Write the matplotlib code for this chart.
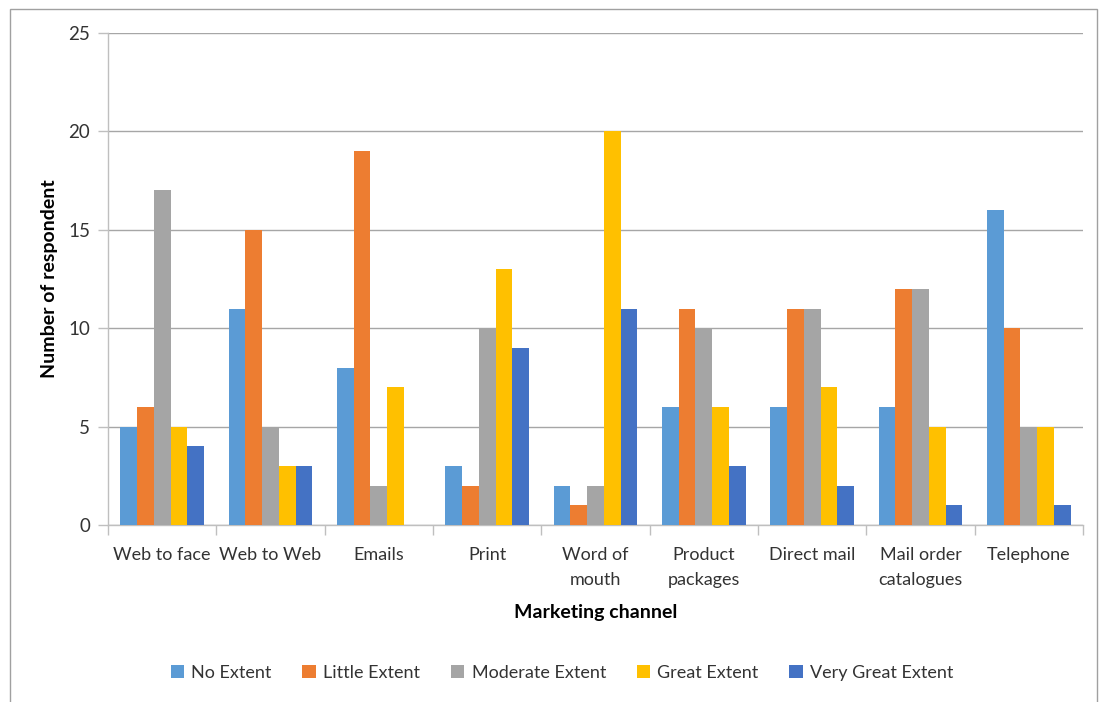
import matplotlib.pyplot as plt
import numpy as np
from matplotlib.patches import Rectangle

plt.rcParams['font.family'] = ['Lato', 'DejaVu Sans']

# Survey counts per marketing channel
channels = ['Web to face', 'Web to Web', 'Emails', 'Print', 'Word of\nmouth',
            'Product\npackages', 'Direct mail', 'Mail order\ncatalogues', 'Telephone']
no_extent = [5, 11, 8, 3, 2, 6, 6, 6, 16]
little_extent = [6, 15, 19, 2, 1, 11, 11, 12, 10]
moderate_extent = [17, 5, 2, 10, 2, 10, 11, 12, 5]
great_extent = [5, 3, 7, 13, 20, 6, 7, 5, 5]
very_great_extent = [4, 3, 0, 9, 11, 3, 2, 1, 1]

series_names = ['No Extent', 'Little Extent', 'Moderate Extent', 'Great Extent', 'Very Great Extent']
series_values = [no_extent, little_extent, moderate_extent, great_extent, very_great_extent]
colors = ['#5B9BD5', '#ED7D31', '#A5A5A5', '#FFC000', '#4472C4']

fig = plt.figure(figsize=(11.01, 7.02), dpi=100)
ax = fig.add_axes([108 / 1101, 177 / 702, 975 / 1101, 492 / 702])

# Light chart border
fig.patches.append(Rectangle((10 / 1101, -0.01), 1087 / 1101, 1 - 9 / 702 + 0.01,
                             transform=fig.transFigure, fill=False,
                             edgecolor='#A0A0A0', linewidth=1.0))

x = np.arange(len(channels))
bar_width = 0.154
for i, (name, values, color) in enumerate(zip(series_names, series_values, colors)):
    offset = (i - 2) * bar_width
    ax.bar(x + offset, values, width=bar_width, color=color, label=name, zorder=3)

ax.set_xlim(-0.5, len(channels) - 0.5)
ax.set_ylim(0, 25)
ax.set_yticks(np.arange(0, 26, 5))
ax.yaxis.grid(True, color='#A6A6A6', linewidth=1.0, zorder=0)

ax.set_xticks(x)
ax.set_xticklabels(channels, fontsize=13, color='#333333', linespacing=1.75)
ax.set_xticks(np.arange(-0.5, len(channels)), minor=True)
ax.tick_params(axis='x', which='major', length=0, pad=15.5)
ax.tick_params(axis='x', which='minor', length=7, color='#BFBFBF', width=1)
ax.tick_params(axis='y', length=7, color='#BFBFBF', width=1, labelsize=13.5,
               labelcolor='#333333', pad=6)

for side in ['top', 'right']:
    ax.spines[side].set_visible(False)
for side in ['left', 'bottom']:
    ax.spines[side].set_color('#BFBFBF')
    ax.spines[side].set_linewidth(1.0)

ax.set_ylabel('Number of respondent', fontsize=14, fontweight='bold', labelpad=7)
ax.set_xlabel('Marketing channel', fontsize=14, fontweight='bold', labelpad=11)

leg = fig.legend(loc='center', bbox_to_anchor=(562 / 1101, 1 - 673 / 702), ncol=5,
                 frameon=False, fontsize=13, handlelength=0.75, handleheight=0.75,
                 handletextpad=0.4, columnspacing=1.7)
for text in leg.get_texts():
    text.set_color('#333333')

fig.savefig('out.png', dpi=100)
